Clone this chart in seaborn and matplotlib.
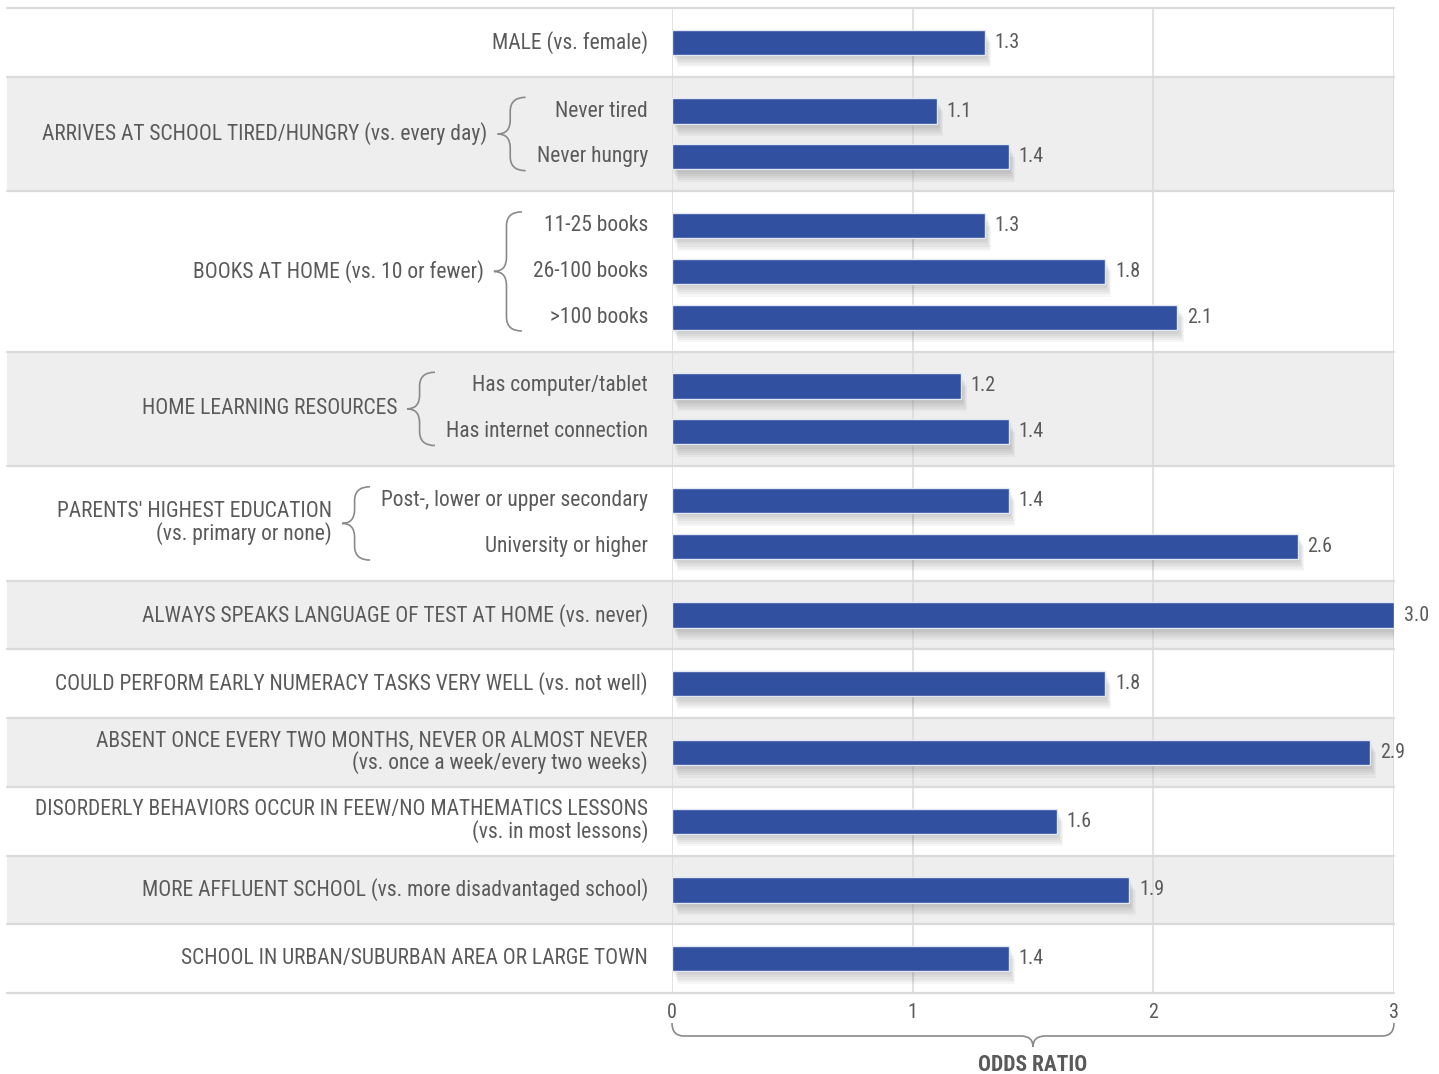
import numpy as np
import pandas as pd
import matplotlib
matplotlib.use("Agg")
import matplotlib.pyplot as plt
import matplotlib.patheffects as pe
from matplotlib import font_manager as fm
from matplotlib.path import Path
from matplotlib.patches import PathPatch
from matplotlib.transforms import IdentityTransform
import seaborn as sns

# ---------------------------------------------------------------- data
group_labels = [
    "MALE (vs. female)",
    "ARRIVES AT SCHOOL TIRED/HUNGRY (vs. every day)",
    "BOOKS AT HOME (vs. 10 or fewer)",
    "HOME LEARNING RESOURCES",
    "PARENTS' HIGHEST EDUCATION\n(vs. primary or none)",
    "ALWAYS SPEAKS LANGUAGE OF TEST AT HOME (vs. never)",
    "COULD PERFORM EARLY NUMERACY TASKS VERY WELL (vs. not well)",
    "ABSENT ONCE EVERY TWO MONTHS, NEVER OR ALMOST NEVER\n(vs. once a week/every two weeks)",
    "DISORDERLY BEHAVIORS OCCUR IN FEEW/NO MATHEMATICS LESSONS\n(vs. in most lessons)",
    "MORE AFFLUENT SCHOOL (vs. more disadvantaged school)",
    "SCHOOL IN URBAN/SUBURBAN AREA OR LARGE TOWN",
]
bar_group = [0, 1, 1, 2, 2, 2, 3, 3, 4, 4, 5, 6, 7, 8, 9, 10]
bar_labels = [
    "", "Never tired", "Never hungry",
    "11-25 books", "26-100 books", ">100 books",
    "Has computer/tablet", "Has internet connection",
    "Post-, lower or upper secondary", "University or higher",
    "", "", "", "", "", "",
]
odds_ratio = [1.3, 1.1, 1.4, 1.3, 1.8, 2.1, 1.2, 1.4, 1.4, 2.6, 3.0, 1.8, 2.9, 1.6, 1.9, 1.4]
x_ticks = [0, 1, 2, 3]
x_title = "ODDS RATIO"

# ---------------------------------------------------------------- style
W, H, DPI = 1439, 1074, 100
sns.set_theme(style="white")
installed = {f.name for f in fm.fontManager.ttflist}
base_font = next((n for n in ("Liberation Sans Narrow", "Roboto Condensed", "Roboto")
                  if n in installed), "DejaVu Sans")
plt.rcParams["font.family"] = [base_font, "DejaVu Sans"]

TEXT = "#5a5a5a"
BAR = "#3150a0"
BAND = "#eeeeee"
RULE = "#dadada"
BRACE = "#8a8a8a"
FS = 15.5      # row labels
FS_VAL = 14.5  # value labels and ticks

fig = plt.figure(figsize=(W / DPI, H / DPI), dpi=DPI)
fig.patch.set_facecolor("white")
ax = fig.add_axes([672 / W, 1 - 993 / H, (1394 - 672) / W, (993 - 8) / H])
ax.patch.set_alpha(0)

# ---------------------------------------------------------------- layout
PAD = 0.5  # extra space per group, in bar slots
n_per_group = np.bincount(bar_group)
group_top = np.concatenate([[0.0], np.cumsum(n_per_group + PAD)])
total = group_top[-1]
bar_pos = []
seen = {}
for g in bar_group:
    k = seen.get(g, 0)
    seen[g] = k + 1
    bar_pos.append(group_top[g] + PAD / 2 + 0.5 + k)
bar_pos = np.array(bar_pos)

# ---------------------------------------------------------------- background bands and rules
left_ext = (672 - 7) / (1394 - 672)
for g in range(len(group_labels)):
    if g % 2 == 1:
        ax.axhspan(group_top[g], group_top[g + 1], xmin=-left_ext, xmax=1,
                   color=BAND, lw=0, zorder=0, clip_on=False)
for yb in group_top:
    ax.axhline(yb, xmin=-left_ext, xmax=1, color=RULE, lw=1.6, zorder=1, clip_on=False)
for t in x_ticks:
    ax.axvline(t, color=RULE, lw=1.1, zorder=1)

# ---------------------------------------------------------------- bars
df = pd.DataFrame({"pos": bar_pos, "odds": odds_ratio})
sns.barplot(data=df, x="odds", y="pos", orient="y", native_scale=True,
            width=0.55, color=BAR, saturation=1, errorbar=None,
            edgecolor="#e3e8f3", linewidth=1.0, ax=ax, zorder=3)

shadow = [pe.SimplePatchShadow(offset=(0.5 * o, -o), shadow_rgbFace="black", alpha=0.035)
          for o in (1.5, 3, 4.5, 6, 7.5, 9)]
for cont in ax.containers:
    for p in cont.patches:
        p.set_path_effects(shadow + [pe.Normal()])
    ax.bar_label(cont, labels=[f"{v:.1f}" for v in cont.datavalues],
                 padding=7, color=TEXT, fontsize=FS_VAL)

ax.set_xlim(0, 3)
ax.set_ylim(total, 0)
ax.set_xticks(x_ticks)
ax.set_xticklabels([str(t) for t in x_ticks])
ax.set_yticks([])
ax.set_xlabel("")
ax.set_ylabel("")
ax.tick_params(axis="x", length=0, pad=7, labelsize=FS_VAL, labelcolor=TEXT)
for s in ax.spines.values():
    s.set_visible(False)

# ---------------------------------------------------------------- row labels
def row_text(s, y):
    return ax.annotate(s, xy=(0, y), xycoords="data", xytext=(-24, 0),
                       textcoords="offset pixels", ha="right", va="center",
                       fontsize=FS, color=TEXT, linespacing=1.0,
                       annotation_clip=False)

sub_texts = {}
for i, (g, lab) in enumerate(zip(bar_group, bar_labels)):
    if n_per_group[g] == 1:
        row_text(group_labels[g], bar_pos[i])
    else:
        sub_texts.setdefault(g, []).append(row_text(lab, bar_pos[i]))

fig.canvas.draw()
renderer = fig.canvas.get_renderer()


def left_brace(x_tip, y_top, y_bot, w):
    xm = x_tip + w * 0.45
    xr = x_tip + w
    ym = (y_top + y_bot) / 2
    r = w * 0.5
    verts = [(xr, y_top), (xm, y_top), (xm, y_top - r),
             (xm, ym + r), (xm, ym), (x_tip, ym),
             (xm, ym), (xm, ym - r),
             (xm, y_bot + r), (xm, y_bot), (xr, y_bot)]
    codes = [Path.MOVETO, Path.CURVE3, Path.CURVE3,
             Path.LINETO, Path.CURVE3, Path.CURVE3,
             Path.CURVE3, Path.CURVE3,
             Path.LINETO, Path.CURVE3, Path.CURVE3]
    return Path(verts, codes)


for g, texts in sub_texts.items():
    left = min(t.get_window_extent(renderer).x0 for t in texts)
    idx = [i for i, gg in enumerate(bar_group) if gg == g]
    y_top = ax.transData.transform((0, bar_pos[idx[0]] - 0.3))[1]
    y_bot = ax.transData.transform((0, bar_pos[idx[-1]] + 0.3))[1]
    x_right = left - 11
    bw = 28
    x_tip = x_right - bw
    fig.add_artist(PathPatch(left_brace(x_tip, y_top, y_bot, bw),
                             transform=IdentityTransform(), fill=False,
                             edgecolor=BRACE, lw=1.2))
    fig.text(x_tip - 10, (y_top + y_bot) / 2, group_labels[g],
             transform=IdentityTransform(), ha="right", va="center",
             fontsize=FS, color=TEXT, linespacing=1.0)

# ---------------------------------------------------------------- axis brace and title
x0 = ax.transData.transform((0, 0))[0]
x1 = ax.transData.transform((3, 0))[0]
xc = (x0 + x1) / 2
ax_bottom = ax.get_window_extent(renderer).y0
y_end = ax_bottom - 30
y_line = ax_bottom - 43
y_tip = ax_bottom - 54
r = 12
verts = [(x0, y_end), (x0, y_line), (x0 + r, y_line),
         (xc - r, y_line), (xc, y_line), (xc, y_tip),
         (xc, y_line), (xc + r, y_line),
         (x1 - r, y_line), (x1, y_line), (x1, y_end)]
codes = [Path.MOVETO, Path.CURVE3, Path.CURVE3,
         Path.LINETO, Path.CURVE3, Path.CURVE3,
         Path.CURVE3, Path.CURVE3,
         Path.LINETO, Path.CURVE3, Path.CURVE3]
fig.add_artist(PathPatch(Path(verts, codes), transform=IdentityTransform(),
                         fill=False, edgecolor=BRACE, lw=1.2))
fig.text(xc, ax_bottom - 72, x_title, transform=IdentityTransform(),
         ha="center", va="center", fontsize=FS, fontweight="bold", color=TEXT)

fig.savefig("out.png", dpi=DPI, facecolor="white")
